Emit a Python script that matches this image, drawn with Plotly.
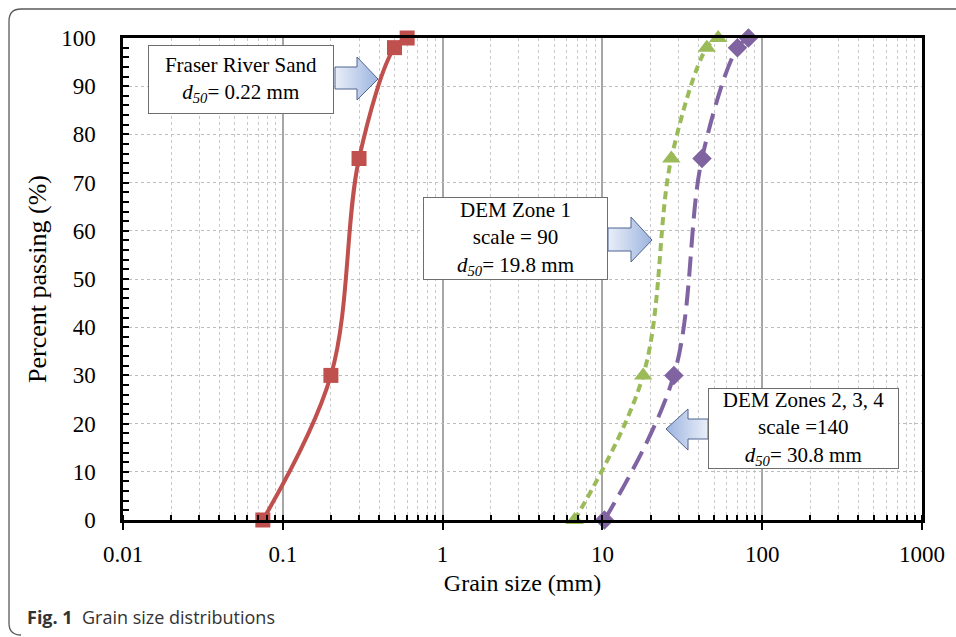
import plotly.graph_objects as go

# ---------------- data ----------------
fraser_size = [0.075, 0.2, 0.3, 0.5, 0.6]
fraser_pass = [0, 30, 75, 98, 100]

zone1_size = [6.7, 18, 27, 45, 53]
zone1_pass = [0, 30, 75, 98, 100]

zone234_size = [10.3, 28, 42, 70, 82]
zone234_pass = [0, 30, 75, 98, 100]

x_tick_vals = [0.01, 0.1, 1, 10, 100, 1000]
x_tick_text = ["0.01", "0.1", "1", "10", "100", "1000"]

# ---------------- layout geometry (pixels) ----------------
W, H = 956, 637
PL, PR, PT, PB = 123, 922, 38, 520   # plot area edges


def px(x):
    return (x - PL) / (PR - PL)


def py(y):
    return (PB - y) / (PB - PT)


SERIF = "Liberation Serif, Times New Roman, serif"

fig = go.Figure()

fig.add_trace(go.Scatter(
    x=fraser_size, y=fraser_pass, mode="lines+markers", name="Fraser River Sand",
    line=dict(color="#c0504d", width=4, shape="spline"),
    marker=dict(symbol="square", size=15, color="#c0504d"),
    cliponaxis=False, showlegend=False))

fig.add_trace(go.Scatter(
    x=zone1_size, y=zone1_pass, mode="lines+markers", name="DEM Zone 1",
    line=dict(color="#9bbb59", width=4, shape="spline", dash="8px,5px"),
    marker=dict(symbol="triangle-up", size=16, color="#9bbb59"),
    cliponaxis=False, showlegend=False))

fig.add_trace(go.Scatter(
    x=zone234_size, y=zone234_pass, mode="lines+markers", name="DEM Zones 2, 3, 4",
    line=dict(color="#8064a2", width=4, shape="spline", dash="20px,9px"),
    marker=dict(symbol="diamond", size=15, color="#8064a2"),
    cliponaxis=False, showlegend=False))

# ---------------- block arrows (decoration) ----------------
def arrow(pts, tip_right):
    xs = [px(p[0]) for p in pts] + [px(pts[0][0])]
    ys = [py(p[1]) for p in pts] + [py(pts[0][1])]
    cs = [[0, "#e9eff9"], [1, "#9db4df"]] if tip_right else [[0, "#9db4df"], [1, "#e9eff9"]]
    fig.add_trace(go.Scatter(
        x=xs, y=ys, xaxis="x2", yaxis="y2", mode="lines", fill="toself",
        line=dict(color="#4f6591", width=1),
        fillgradient=dict(type="horizontal", colorscale=cs),
        hoverinfo="skip", showlegend=False))


# Fraser arrow (pointing right)
arrow([(335, 67), (357, 67), (357, 57), (378, 79), (357, 100), (357, 89), (335, 89)], True)
# DEM Zone 1 arrow (pointing right)
arrow([(608, 228), (631, 228), (631, 217), (652, 240), (631, 262), (631, 251), (608, 251)], True)
# DEM Zones 2,3,4 arrow (pointing left)
arrow([(708, 419), (688, 419), (688, 409), (666, 429), (688, 450), (688, 439), (708, 439)], False)

# ---------------- annotations (boxes) ----------------
d50 = "<i>d<sub>50</sub></i>"
boxes = [
    ((148 + 334) / 2, (45 + 114) / 2, 184, 67, "Fraser River Sand<br>" + d50 + "= 0.22 mm"),
    ((423 + 608) / 2, (197 + 280) / 2, 183, 81, "DEM Zone 1<br>scale = 90<br>" + d50 + "= 19.8 mm"),
    ((708 + 899) / 2, (388 + 469) / 2, 189, 79, "DEM Zones 2, 3, 4<br>scale =140<br>" + d50 + "= 30.8 mm"),
]
annotations = []
for cx, cy, w, h, t in boxes:
    annotations.append(dict(
        x=px(cx), y=py(cy), xref="paper", yref="paper", xanchor="center", yanchor="middle",
        text=t, showarrow=False, width=w, height=h, align="center", valign="middle",
        bgcolor="white", bordercolor="#6e6e6e", borderwidth=1, borderpad=0,
        font=dict(family=SERIF, size=21, color="black")))

# caption
annotations.append(dict(
    x=px(25), y=py(617), xref="paper", yref="paper", xanchor="left", yanchor="middle",
    text="<b>Fig. 1</b>  Grain size distributions", showarrow=False,
    font=dict(family="Open Sans, sans-serif", size=18, color="#333333")))

# ---------------- outer rounded frame ----------------
fx0, fy0, fx1, fy1, r = 9, 9, 980, 635, 12
frame_path = (
    f"M {px(fx0)} {py(fy1 - r)} L {px(fx0)} {py(fy0 + r)} "
    f"Q {px(fx0)} {py(fy0)} {px(fx0 + r)} {py(fy0)} L {px(fx1)} {py(fy0)} "
    f"M {px(fx0)} {py(fy1 - r)} Q {px(fx0)} {py(fy1)} {px(fx0 + r)} {py(fy1)}"
)
shapes = [dict(type="path", xref="paper", yref="paper", path=frame_path,
               line=dict(color="#5a5a5a", width=1.3))]

fig.update_layout(
    width=W, height=H,
    margin=dict(l=PL, r=W - PR, t=PT, b=H - PB, pad=0),
    paper_bgcolor="white", plot_bgcolor="white",
    font=dict(family=SERIF, size=23, color="black"),
    annotations=annotations, shapes=shapes,
    xaxis=dict(
        type="log", range=[-2, 3], tickvals=x_tick_vals, ticktext=x_tick_text,
        ticks="outside", ticklen=7, tickwidth=1.5, tickcolor="black",
        showline=True, linecolor="black", linewidth=2.5, mirror=True,
        showgrid=True, gridcolor="#a6a6a6", gridwidth=1.5,
        minor=dict(dtick="D1", ticks="inside", ticklen=5, tickwidth=1.5, tickcolor="black",
                   showgrid=True, gridcolor="#c8c8c8", gridwidth=1, griddash="dot"),
        zeroline=False, ticklabelstandoff=5,
        title=dict(text="Grain size (mm)", font=dict(family=SERIF, size=24), standoff=8),
        tickfont=dict(family=SERIF, size=23),
    ),
    yaxis=dict(
        range=[0, 100], dtick=10, ticks="inside", ticklen=6, tickwidth=1.5, tickcolor="black",
        showline=True, linecolor="black", linewidth=2.5, mirror=True,
        showgrid=True, gridcolor="#bdbdbd", gridwidth=1, griddash="dot",
        minor=dict(dtick=2, ticks="inside", ticklen=6, tickwidth=1.5, tickcolor="black", showgrid=False),
        zeroline=False, ticklabelstandoff=20,
        title=dict(text="Percent passing (%)", font=dict(family=SERIF, size=26), standoff=8),
        tickfont=dict(family=SERIF, size=23),
    ),
    xaxis2=dict(overlaying="x", range=[0, 1], visible=False, fixedrange=True),
    yaxis2=dict(overlaying="y", range=[0, 1], visible=False, fixedrange=True),
)

fig.write_html("out.html")
